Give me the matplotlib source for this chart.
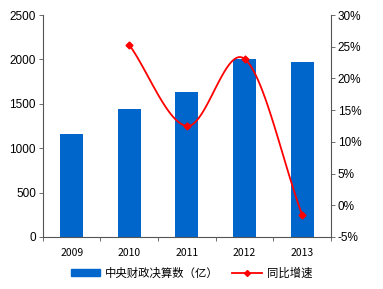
import numpy as np
import matplotlib
matplotlib.use("Agg")
import matplotlib.pyplot as plt
from matplotlib.ticker import FuncFormatter

plt.rcParams["font.family"] = ["Liberation Sans", "Noto Sans CJK SC", "DejaVu Sans"]

# === Data ===
years = ["2009", "2010", "2011", "2012", "2013"]
spending = [1160, 1441, 1633, 2005, 1971]          # 中央财政决算数（亿）
growth_years = ["2010", "2011", "2012", "2013"]
growth = [25.3, 12.5, 23.1, -1.5]                  # 同比增速 %

BLUE = "#0066CC"
RED = "#FF0000"


def smooth(xs, ys, n=30):
    # Excel-style smoothed line (Catmull-Rom through the points)
    xs = np.asarray(xs, float)
    ys = np.asarray(ys, float)
    px = np.concatenate([[2 * xs[0] - xs[1]], xs, [2 * xs[-1] - xs[-2]]])
    py = np.concatenate([[2 * ys[0] - ys[1]], ys, [2 * ys[-1] - ys[-2]]])
    ox, oy = [], []
    t = np.linspace(0, 1, n)
    for i in range(1, len(px) - 2):
        for p, out in ((px, ox), (py, oy)):
            p0, p1, p2, p3 = p[i - 1], p[i], p[i + 1], p[i + 2]
            out.extend(0.5 * (2 * p1 + (-p0 + p2) * t
                              + (2 * p0 - 5 * p1 + 4 * p2 - p3) * t ** 2
                              + (-p0 + 3 * p1 - 3 * p2 + p3) * t ** 3))
    return np.array(ox), np.array(oy)


fig = plt.figure(figsize=(3.83, 2.89), dpi=100)
ax = fig.add_axes([0.112, 0.180, 0.752, 0.768])
x = np.arange(len(years))
ax.bar(x, spending, width=0.4, color=BLUE, label="中央财政决算数（亿）", zorder=2)
ax.set_xlim(-0.5, len(years) - 0.5)
ax.set_ylim(0, 2500)
ax.set_yticks(range(0, 2501, 500))
ax.set_xticks(x)
ax.set_xticklabels(years, fontsize=7.5, family=["Noto Sans CJK SC", "DejaVu Sans"])
ax.set_xticks(np.arange(-0.5, len(years)), minor=True)
ax.tick_params(axis="x", which="major", length=0, pad=8)
ax.tick_params(axis="x", which="minor", length=3, direction="out", width=0.6, color="#555555")
ax.tick_params(axis="y", labelsize=8.5, length=3, width=0.6, color="#555555", pad=2)
for s in ["top", "right"]:
    ax.spines[s].set_visible(False)
for s in ["left", "bottom"]:
    ax.spines[s].set_color("#555555")
    ax.spines[s].set_linewidth(0.8)

ax2 = ax.twinx()
gx = [years.index(y) for y in growth_years]
sx, sy = smooth(gx, growth)
ax2.plot(sx, sy, color=RED, lw=1.3, zorder=3)
ax2.plot(gx, growth, ls="none", marker="D", ms=3.5, color=RED, zorder=4)
ax2.set_ylim(-5, 30)
ax2.set_yticks(range(-5, 31, 5))
ax2.yaxis.set_major_formatter(FuncFormatter(lambda v, p: f"{v:.0f}%"))
ax2.tick_params(axis="y", labelsize=8.5, length=3, width=0.6, color="#555555", pad=2)
for s in ["top", "left", "bottom"]:
    ax2.spines[s].set_visible(False)
ax2.spines["right"].set_color("#555555")
ax2.spines["right"].set_linewidth(0.8)

# legend
h1 = plt.Rectangle((0, 0), 1, 1, color=BLUE)
h2, = ax2.plot([], [], color=RED, lw=1.3, marker="D", ms=3)
fig.legend([h1, h2], ["中央财政决算数（亿）", "同比增速"], loc="lower center",
           bbox_to_anchor=(0.5, 0.0), ncol=2, frameon=False,
           prop={"family": ["Noto Sans CJK SC"], "size": 8.2},
           handlelength=2.6, handleheight=0.5, columnspacing=1.2, handletextpad=0.4)

fig.savefig("out.png", dpi=100)
